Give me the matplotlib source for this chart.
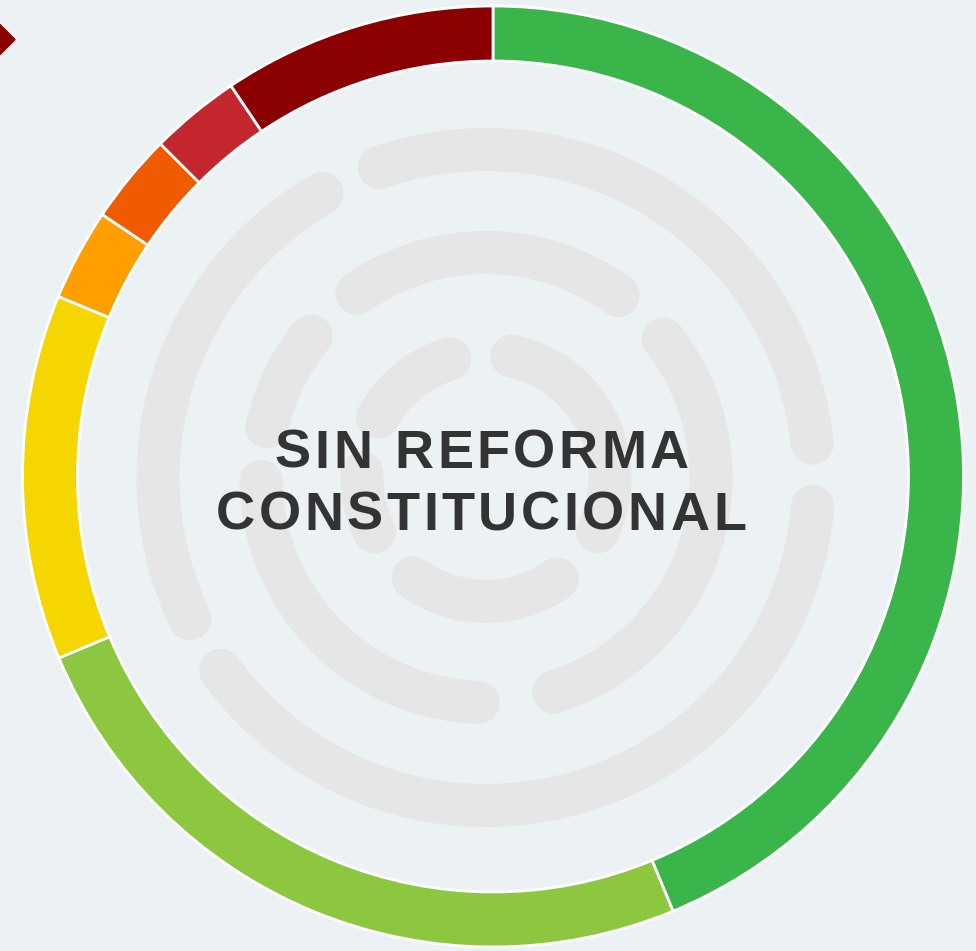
import numpy as np
import matplotlib.pyplot as plt
from matplotlib.patches import Arc, Polygon
from matplotlib.font_manager import FontProperties, findfont, get_font

W, H = 976, 951
bg = '#ECF1F4'

# share of each bloc (%), clockwise from 12 o'clock
shares = [43.75, 24.95, 12.55, 3.15, 3.1, 3.1, 9.4]
colors = ['#3AB54A', '#8DC63F', '#F6D600', '#FF9E00', '#F05A00', '#C4262E', '#8B0000']
title_lines = ['SIN REFORMA', 'CONSTITUCIONAL']

# decorative logo behind the text: (radius, start angle, end angle)
logo_arcs = [(328, 6, 109), (328, 120, 205.5), (328, 216, 355),
             (225, 54, 125), (225, -72.5, 38), (225, 141, 167), (225, 181, 268),
             (124, 107, 151), (124, 178, 206), (124, -26, 78), (124, 234, 305)]

fig = plt.figure(figsize=(W / 100, H / 100), dpi=100, facecolor=bg)
ax = fig.add_axes([0, 0, 1, 1])
ax.set_facecolor(bg)

# logo
lcx, lcy = 486, H - 477.5
for r, t1, t2 in logo_arcs:
    ax.add_patch(Arc((lcx, lcy), 2 * r, 2 * r, theta1=t1, theta2=t2,
                     lw=31, color='#E6E6E6', capstyle='round', zorder=1))

# donut
ax.pie(shares, colors=colors, radius=470.5, center=(493, H - 476.5),
       startangle=90, counterclock=False,
       wedgeprops=dict(width=55, edgecolor='white', linewidth=2))

# small marker in the corner
ax.add_patch(Polygon([(-15, H - 39.5), (0, H - 24.5), (15, H - 39.5), (0, H - 54.5)],
                     closed=True, color='#8B0000', zorder=3))

# center title with letter spacing
fp = FontProperties(family='Liberation Sans', weight='bold', size=39)
font = get_font(findfont(fp))
font.set_size(fp.get_size_in_points(), 72)
track = 3.5 * 72 / 100


def adv(ch):
    return font.load_char(ord(ch)).linearHoriAdvance / 65536


def tracked(s, x, y):
    ws = [adv(c) for c in s]
    total = sum(ws) + track * (len(s) - 1)
    pen = -total / 2
    for c, w in zip(s, ws):
        if c != ' ':
            ax.annotate(c, xy=(x, y), xytext=(pen + w / 2, 0), textcoords='offset points',
                        ha='center', va='baseline', fontproperties=fp, color='#333333', zorder=5)
        pen += w + track


tracked(title_lines[0], 482, H - 467.5)
tracked(title_lines[1], 481, H - 529.5)

ax.set_xlim(0, W)
ax.set_ylim(0, H)
ax.axis('off')

fig.savefig('out.png', dpi=100, facecolor=bg)
